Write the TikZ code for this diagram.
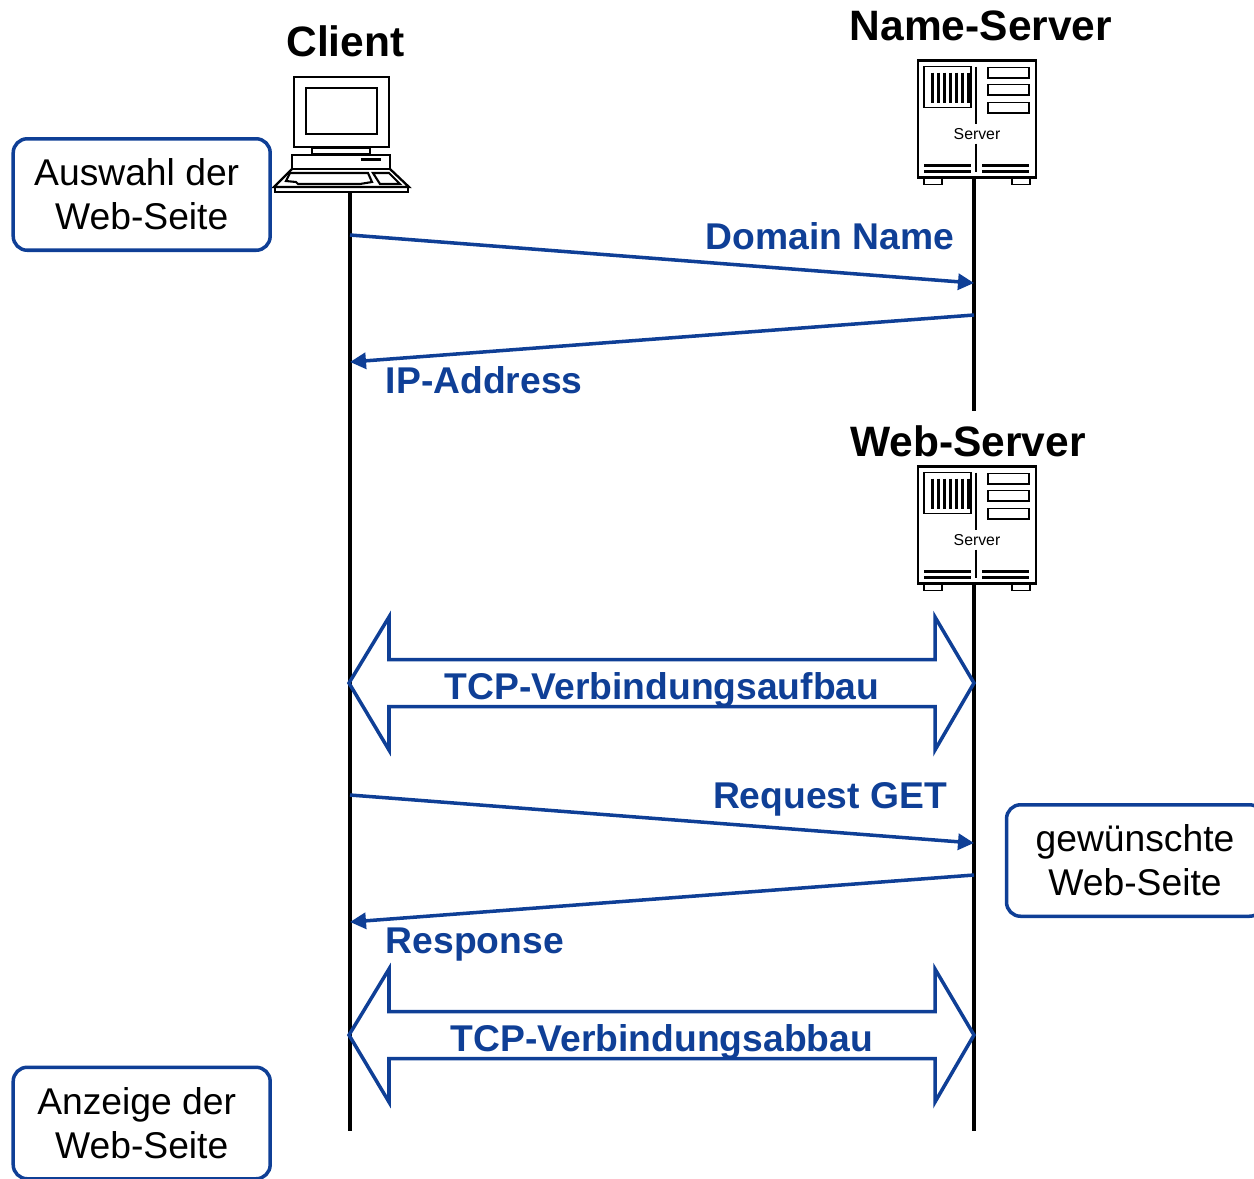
\documentclass[tikz,border=0pt]{standalone}
\usepackage{fontspec}
\setmainfont{Liberation Sans}
\usetikzlibrary{arrows.meta}
\definecolor{msgblue}{HTML}{0F3F96}
\tikzset{
	title/.style={font=\fontsize{24.2}{28}\selectfont\bfseries, inner sep=0pt},
	msg/.style={font=\fontsize{21.2}{25}\selectfont\bfseries, text=msgblue, inner sep=0pt},
	note/.style={draw=msgblue, line width=2pt, rounded corners=0.28cm, minimum width=5.14cm, minimum height=2.23cm, align=center, inner sep=0pt, font=\fontsize{21.2}{25}\selectfont},
	lifeline/.style={line width=2pt},
	msgline/.style={draw=msgblue, line width=2pt, -{Stealth[inset=0pt, length=0.32cm, width=0.32cm]}},
	tcpshape/.style={draw=msgblue, line width=2pt, miter limit=10},
	server/.pic={
		\draw[line width=1.3pt] (-58,0) rectangle (60,117);
		\draw[line width=1.1pt] (-52,6) rectangle (-5,47);
		\foreach \bx in {-44,-38,...,-8} {
			\draw[line width=1.7pt] (\bx,12) -- (\bx,42);
		}
		\draw[line width=1.6pt] (0,6) -- (0,63);
		\draw[line width=1.6pt] (0,83) -- (0,111);
		\foreach \by in {7,24,42} {
			\draw[line width=1.1pt] (12,\by) rectangle (53,\by+10.5);
		}
		\foreach \by in {105,111} {
			\draw[line width=1.5pt] (-52,\by) -- (-5,\by);
			\draw[line width=1.5pt] (6,\by) -- (53,\by);
		}
		\draw[line width=1.1pt] (-52,118) rectangle (-34,124);
		\draw[line width=1.1pt] (36,118) rectangle (54,124);
		\node[font=\fontsize{9}{10}\selectfont, inner sep=0pt] at (1,73.5) {Server};
	},
	client/.pic={
		% screen
		\draw[line width=1.3pt] (294,77) rectangle (389,147);
		\draw[line width=1.3pt] (306,88) rectangle (377,134);
		\draw[line width=1.1pt] (312,148.5) rectangle (370,154);
		% desktop case
		\draw[line width=1.3pt] (292,155) rectangle (390,169);
		\fill (361,158) rectangle (381,161);
		% keyboard
		\draw[line width=1.3pt] (292,169) -- (274,187) -- (409,187) -- (390,169);
		\draw[line width=1.3pt] (275,187) rectangle (408,192);
		\draw[line width=1.2pt] (290,173) -- (368,173) -- (372,182) -- (360,184) -- (298,184) -- (296,182) -- (286,181) -- cycle;
		\draw[line width=1.2pt] (373,173) -- (389,173) -- (400,184) -- (380,184) -- cycle;
	}
}
\begin{document}
\begin{tikzpicture}[x=0.02cm, y=-0.02cm]
	\useasboundingbox (0,0) rectangle (1254,1178);

	% Lifelines
	\coordinate (clienttop) at (350,192);
	\coordinate (clientend) at (350,1131);
	\coordinate (nametop) at (974,177);
	\coordinate (nameend) at (974,411);
	\coordinate (webtop) at (974,584);
	\coordinate (webend) at (974,1131);
	\draw[lifeline] (clienttop) -- (clientend);
	\draw[lifeline] (nametop) -- (nameend);
	\draw[lifeline] (webtop) -- (webend);

	% Hosts
	\node[title] (clienttitle) at (345.5,41) {Client};
	\node[title] (nametitle) at (981,25.5) {Name-Server};
	\node[title] (webtitle) at (968,441) {Web-Server};
	\pic at (0,0) {client};
	\pic at (976,60.5) {server};
	\pic at (976,466.5) {server};

	% Notes
	\node[note] (auswahl) at (141.7,194.5) {Auswahl der\hspace*{0.2cm}\\Web-Seite};
	\node[note] (anzeige) at (141.7,1123) {Anzeige der\hspace*{0.2cm}\\Web-Seite};
	\node[note] (gewuenscht) at (1135,860.5) {gewünschte\\Web-Seite};

	% DNS lookup
	\coordinate (c1) at (350,235);
	\coordinate (n1) at (974,283);
	\coordinate (n2) at (974,315);
	\coordinate (c2) at (350,362);
	\draw[msgline] (c1) -- (n1);
	\draw[msgline] (n2) -- (c2);
	\node[msg] (domain) at (830,236) {Domain Name};
	\node[msg, anchor=west] (ipaddr) at (385.5,380) {IP-Address};

	% TCP connection
	\foreach \cy in {683,1035} {
		\draw[tcpshape] (349,\cy) -- (389,\cy-66) -- (389,\cy-23.5) -- (935,\cy-23.5) -- (935,\cy-66) -- (974,\cy) -- (935,\cy+67) -- (935,\cy+23.5) -- (389,\cy+23.5) -- (389,\cy+67) -- cycle;
	}
	\node[msg] (aufbau) at (662,690) {TCP-Verbindungsaufbau};
	\node[msg] (abbau) at (662,1042) {TCP-Verbindungsabbau};

	% Request and response
	\coordinate (c3) at (350,795);
	\coordinate (w1) at (974,843);
	\coordinate (w2) at (974,875);
	\coordinate (c4) at (350,922);
	\draw[msgline] (c3) -- (w1);
	\draw[msgline] (w2) -- (c4);
	\node[msg] (request) at (830,799.5) {Request GET};
	\node[msg, anchor=west] (response) at (385.5,944.5) {Response};
\end{tikzpicture}
\end{document}
